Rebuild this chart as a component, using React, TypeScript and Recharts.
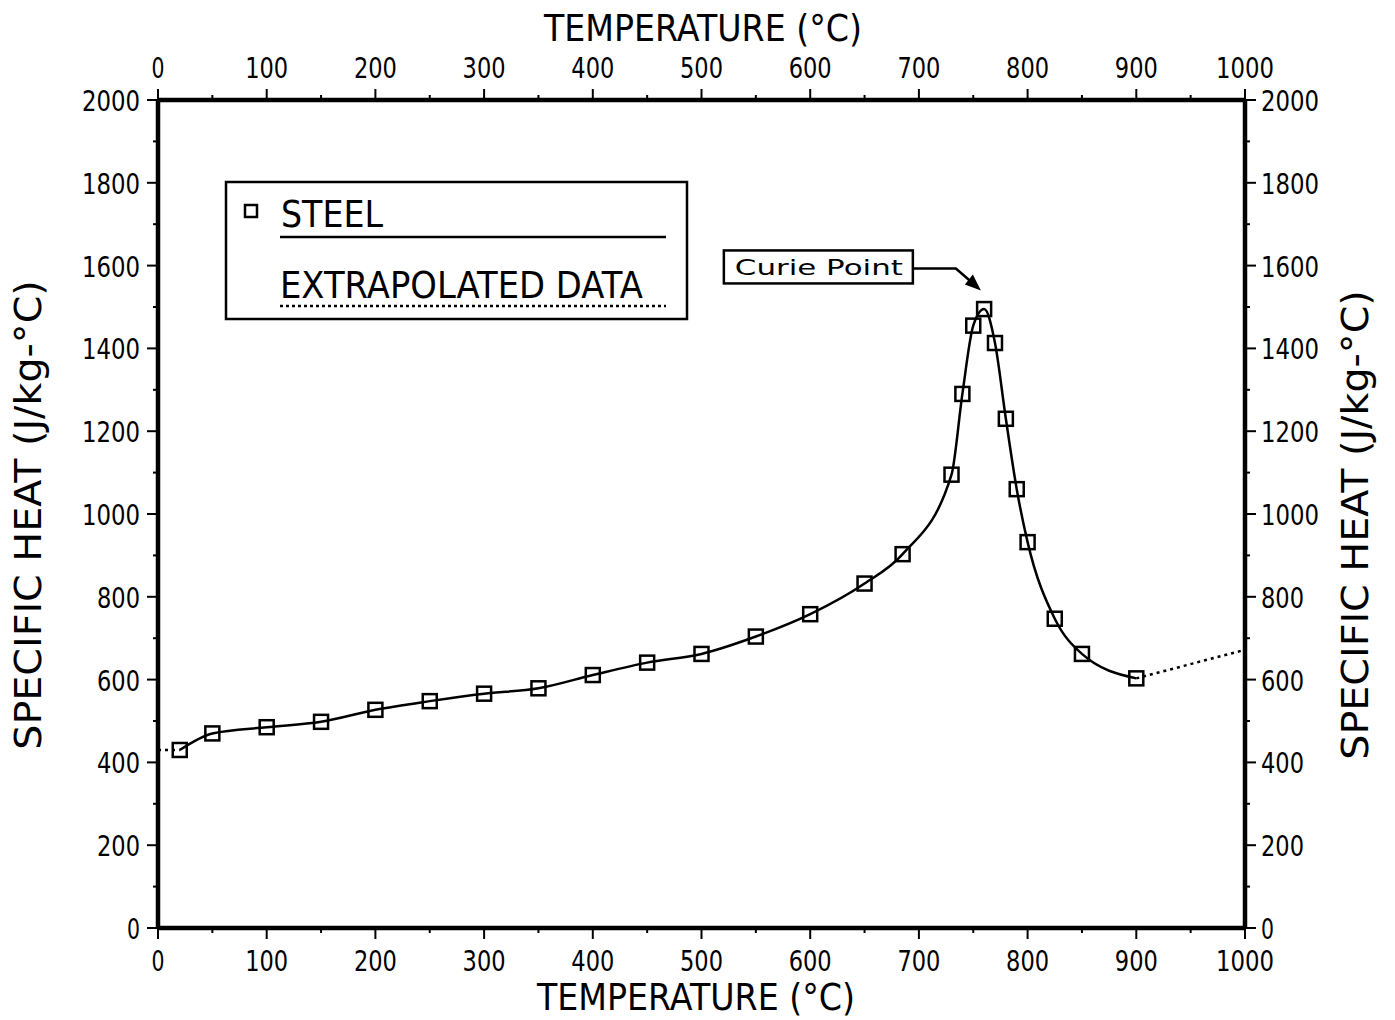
import React from 'react';
import { ComposedChart, Line, XAxis, YAxis, Legend, ReferenceDot } from 'recharts';

// measured steel data (temperature in C, specific heat in J/kg-C)
const steelTemp = [20, 50, 100, 150, 200, 250, 300, 350, 400, 450, 500, 550, 600, 650, 685, 730, 740, 750, 760, 770, 780, 790, 800, 825, 850, 900];
const steelHeat = [430, 470, 485, 498, 527, 548, 566, 579, 611, 641, 662, 704, 758, 832, 903, 1095, 1290, 1455, 1495, 1413, 1230, 1060, 932, 747, 662, 603];

// extrapolated ends
const lowTemp = [0, 20];
const lowHeat = [430, 430];
const highTemp = [900, 1000];
const highHeat = [603, 672];

const tempTicks = [0, 50, 100, 150, 200, 250, 300, 350, 400, 450, 500, 550, 600, 650, 700, 750, 800, 850, 900, 950, 1000];
const heatTicks = [0, 100, 200, 300, 400, 500, 600, 700, 800, 900, 1000, 1100, 1200, 1300, 1400, 1500, 1600, 1700, 1800, 1900, 2000];

const curiePoint = { t: 757, v: 1540, label: 'Curie Point' };

const xTitle = 'TEMPERATURE (°C)';
const yTitle = 'SPECIFIC HEAT (J/kg-°C)';
const seriesName = 'STEEL';
const extrapName = 'EXTRAPOLATED DATA';

const FONT = '"DejaVu Sans", sans-serif';
const INK = '#000';

const toRows = (ts: number[], vs: number[]) => ts.map((t, i) => ({ t, v: vs[i] }));
const steelRows = toRows(steelTemp, steelHeat);
const lowRows = toRows(lowTemp, lowHeat);
const highRows = toRows(highTemp, highHeat);

const squeezed = (s: string, per: number) => s.length * per - 2;

const Square = (props: any) => {
  const { cx, cy, index } = props;
  if (cx == null || cy == null) return <g key={`sq-${index}`} />;
  return (
    <rect key={`sq-${index}`} x={cx - 7} y={cy - 7} width={14} height={14}
      fill="none" stroke={INK} strokeWidth={2.5} />
  );
};

const numText = (x: number, y: number, v: number, anchor: 'start' | 'middle' | 'end') => (
  <text x={x} y={y} textAnchor={anchor} fontFamily={FONT} fontSize={29} fill={INK}
    textLength={squeezed(String(v), 15)} lengthAdjust="spacingAndGlyphs">
    {v}
  </text>
);

const BottomTick = ({ x, y, payload }: any) => {
  const v = payload.value;
  const major = v % 100 === 0;
  return (
    <g>
      <line x1={x} x2={x} y1={y} y2={y + (major ? 11 : 5)} stroke={INK} strokeWidth={2} />
      {major && numText(x, y + 43, v, 'middle')}
    </g>
  );
};

const TopTick = ({ x, y, payload }: any) => {
  const v = payload.value;
  const major = v % 100 === 0;
  return (
    <g>
      <line x1={x} x2={x} y1={y} y2={y - (major ? 11 : 5)} stroke={INK} strokeWidth={2} />
      {major && numText(x, y - 22, v, 'middle')}
    </g>
  );
};

const LeftTick = ({ x, y, payload }: any) => {
  const v = payload.value;
  const major = v % 200 === 0;
  return (
    <g>
      <line x1={x} x2={x - (major ? 11 : 5)} y1={y} y2={y} stroke={INK} strokeWidth={2} />
      {major && numText(x - 18, y + 11, v, 'end')}
    </g>
  );
};

const RightTick = ({ x, y, payload }: any) => {
  const v = payload.value;
  const major = v % 200 === 0;
  return (
    <g>
      <line x1={x} x2={x + (major ? 11 : 5)} y1={y} y2={y} stroke={INK} strokeWidth={2} />
      {major && numText(x + 16, y + 11, v, 'start')}
    </g>
  );
};

const titleText = (x: number, y: number, s: string, rotate: boolean) => (
  <text x={x} y={y} textAnchor="middle" fontFamily={FONT} fontSize={38} fill={INK}
    textLength={squeezed(s, rotate ? 20.5 : 20)} lengthAdjust="spacingAndGlyphs"
    transform={rotate ? `rotate(-90 ${x} ${y})` : undefined}>
    {s}
  </text>
);

const LegendBox = () => (
  <svg width={466} height={142} style={{ display: 'block', overflow: 'visible' }}>
    <rect x={2} y={2} width={461} height={137} fill="#fff" stroke={INK} strokeWidth={2.5} />
    <rect x={21} y={25} width={12} height={12} fill="none" stroke={INK} strokeWidth={2.5} />
    <text x={57} y={47} fontFamily={FONT} fontSize={38} fill={INK}
      textLength={102} lengthAdjust="spacingAndGlyphs">{seriesName}</text>
    <line x1={56} x2={442} y1={57} y2={57} stroke={INK} strokeWidth={2.5} />
    <text x={56} y={118} fontFamily={FONT} fontSize={38} fill={INK}
      textLength={363} lengthAdjust="spacingAndGlyphs">{extrapName}</text>
    <line x1={56} x2={442} y1={126} y2={126} stroke={INK} strokeWidth={2.5} strokeDasharray="3 3" />
  </svg>
);

const CurieMark = (props: any) => {
  const { cx, cy } = props;
  if (cx == null || cy == null) return <g />;
  return (
    <g>
      <rect x={cx - 257} y={cy - 40} width={189} height={33} fill="#fff" stroke={INK} strokeWidth={2.5} />
      <text x={cx - 246} y={cy - 15} fontFamily={FONT} fontSize={22} fill={INK}
        textLength={168} lengthAdjust="spacingAndGlyphs">{curiePoint.label}</text>
      <polyline points={`${cx - 68},${cy - 22} ${cx - 25},${cy - 22} ${cx - 10},${cy - 9}`}
        fill="none" stroke={INK} strokeWidth={2.5} />
      <polygon points={`${cx},${cy} ${cx - 8},${cy - 16} ${cx - 16},${cy - 6}`} fill={INK} />
    </g>
  );
};

const App: React.FC = () => {
  return (
    <div style={{ position: 'absolute', left: 0, top: 0, width: 1395, height: 1020, background: '#fff' }}>
      <ComposedChart width={1395} height={1020} margin={{ top: 0, right: 0, bottom: 0, left: 0 }}>
        <XAxis xAxisId="bottom" dataKey="t" type="number" domain={[0, 1000]} ticks={tempTicks}
          interval={0} tickSize={0} tickMargin={0} tickLine={false} tick={BottomTick}
          orientation="bottom" height={92} allowDataOverflow
          axisLine={{ stroke: INK, strokeWidth: 4.5 }}
          label={() => titleText(696, 1010, xTitle, false)} />
        <XAxis xAxisId="top" dataKey="t" type="number" domain={[0, 1000]} ticks={tempTicks}
          interval={0} tickSize={0} tickMargin={0} tickLine={false} tick={TopTick}
          orientation="top" height={100} allowDataOverflow
          axisLine={{ stroke: INK, strokeWidth: 4.5 }}
          label={() => titleText(703, 41, xTitle, false)} />
        <YAxis yAxisId="left" type="number" domain={[0, 2000]} ticks={heatTicks}
          interval={0} tickSize={0} tickMargin={0} tickLine={false} tick={LeftTick}
          orientation="left" width={158} allowDataOverflow
          axisLine={{ stroke: INK, strokeWidth: 4.5 }}
          label={() => titleText(41, 515, yTitle, true)} />
        <YAxis yAxisId="right" type="number" domain={[0, 2000]} ticks={heatTicks}
          interval={0} tickSize={0} tickMargin={0} tickLine={false} tick={RightTick}
          orientation="right" width={150} allowDataOverflow
          axisLine={{ stroke: INK, strokeWidth: 4.5 }}
          label={() => titleText(1368, 525, yTitle, true)} />
        <Legend layout="vertical" align="center" verticalAlign="middle" content={() => <LegendBox />}
          wrapperStyle={{ position: 'absolute', left: 224, top: 180, width: 466, height: 142 }} />
        <Line xAxisId="bottom" yAxisId="left" data={lowRows} dataKey="v" type="linear"
          stroke={INK} strokeWidth={2.5} strokeDasharray="3 4" dot={false} isAnimationActive={false} />
        <Line xAxisId="top" yAxisId="right" data={highRows} dataKey="v" type="linear"
          stroke={INK} strokeWidth={2.5} strokeDasharray="3 4" dot={false} isAnimationActive={false} />
        <Line xAxisId="bottom" yAxisId="left" data={steelRows} dataKey="v" name={seriesName} type="monotone"
          stroke={INK} strokeWidth={2.5} dot={Square} activeDot={false} isAnimationActive={false} />
        <ReferenceDot xAxisId="bottom" yAxisId="left" x={curiePoint.t} y={curiePoint.v}
          shape={CurieMark} ifOverflow="visible" />
      </ComposedChart>
    </div>
  );
};

export default App;
